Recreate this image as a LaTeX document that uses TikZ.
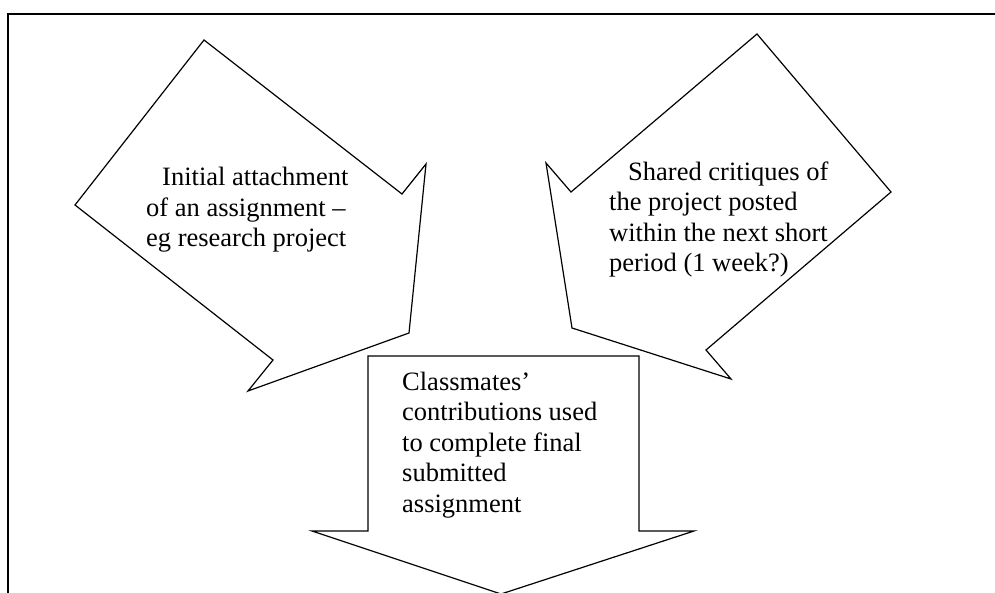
\documentclass[tikz,border=0pt]{standalone}
\usepackage{fontspec}
\setmainfont{Liberation Serif}
\begin{document}
\begin{tikzpicture}[x=1pt,y=-1pt,
  frameline/.style={line width=1.8pt},
  shapeline/.style={line width=1.2pt,line join=miter},
  label/.style={inner sep=0pt,anchor=base west,align=left,
    font=\fontsize{26.5pt}{30.5pt}\selectfont}]
\useasboundingbox (0,0) rectangle (995,593);
\clip (0,0) rectangle (995,593);
\fill[white] (0,0) rectangle (995,593);

% outer frame
\draw[frameline] (8,14) rectangle (1010,620);

% left block arrow, pointing down-right (label anchored at its last baseline)
\draw[shapeline] (204,40) -- (402,194) -- (426,164) -- (409,333)
  -- (248,391) -- (273,360) -- (75,205) -- cycle;
\node[label] (initial) at (146,247)
  {\hspace*{16pt}Initial attachment\\of an assignment –\\eg research project};

% right block arrow, pointing down-left
\draw[shapeline] (757,34) -- (891,192) -- (706,350) -- (731,379)
  -- (572,328) -- (546,163) -- (571,192) -- cycle;
\node[label] (critiques) at (609,272)
  {\hspace*{19pt}Shared critiques of\\the project posted\\within the next short\\period (1 week?)};

% bottom block arrow, pointing down
\draw[shapeline] (368,356) -- (639,356) -- (639,531) -- (694,531)
  -- (501,594) -- (312,531) -- (368,531) -- cycle;
\node[label] (classmates) at (402,512)
  {Classmates’\\contributions used\\to complete final\\submitted\\assignment};
\end{tikzpicture}
\end{document}
